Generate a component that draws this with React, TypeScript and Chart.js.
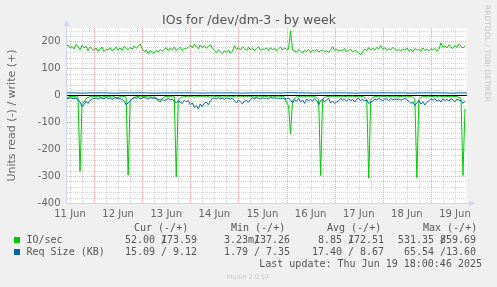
import React, { useEffect, useRef } from "react";
import { Chart, registerables } from "chart.js";

Chart.register(...registerables);

// ---------- text ----------
const TITLE = "IOs for /dev/dm-3 - by week";
const Y_TITLE = "Units read (-) / write (+)";
const WATERMARK = "RRDTOOL / TOBI OETIKER";
const FOOTER = "Munin 2.0.57";
const LAST_UPDATE = "Last update: Thu Jun 19 18:00:46 2025";

// ---------- axes (hours since 11 Jun 00:00) ----------
const X_MIN_HOUR = 10.5;
const X_MAX_HOUR = 210;
const X_TICK_HOURS = [12, 36, 60, 84, 108, 132, 156, 180, 204];
const X_TICK_LABELS = ["11 Jun", "12 Jun", "13 Jun", "14 Jun", "15 Jun", "16 Jun", "17 Jun", "18 Jun", "19 Jun"];
const Y_MIN = -400;
const Y_MAX = 250;
const Y_TICKS = [-400, -300, -200, -100, 0, 100, 200];

// ---------- series ----------
const SERIES_START_HOUR = 10;
const SERIES_STEP_HOURS = 1;

// IO/sec write (+)
const IOS_WRITE = [
  178, 187, 175, 182, 172, 190, 180, 169, 186, 176, 182, 166, 180, 173,
  167, 176, 164, 173, 179, 162, 171, 168, 177, 165,
  172, 179, 167, 176, 166, 182, 174, 169, 178, 171, 184, 175, 181, 191,
  173, 163, 168, 155, 166, 160, 157, 167, 161, 170, 164,
  170, 177, 166, 175, 169, 179, 167, 174, 178, 166, 175, 172,
  179, 186, 176, 190, 182, 173, 187, 178, 184, 175, 181, 188, 176,
  166, 158, 169, 162, 155, 165, 160, 168, 157, 163,
  184, 171, 177, 168, 180, 173, 166, 178, 169, 175, 165, 174, 180, 168, 172,
  171, 176, 166, 177, 169, 174, 165, 172, 179, 168, 176, 171,
  172, 240, 168,
  165, 160, 170, 164, 157, 168, 162, 171, 159, 166, 164, 170, 161, 165, 168, 162, 166, 159, 170,
  181,
  166, 172, 164, 169, 165, 174, 162, 168, 171, 161, 166, 164, 158, 152, 162,
  172, 166, 177, 169, 175, 168, 178, 173, 185, 170, 177, 166, 173, 169, 178, 172, 167,
  170, 164, 173, 167, 176, 165, 171, 162, 174, 168, 170, 164, 176, 167, 171, 165, 173, 168, 174, 164, 170,
  195, 178, 184, 176, 188, 180, 174, 186, 177, 190, 182, 176, 184,
];

// IO/sec read (-)
const IOS_READ = [
  -5, -8, -4, -6, -3, -7, -5,
  -283,
  -30, -25, -12, -8, -5, -6,
  -4, -6, -3, -5, -8, -4, -6, -3, -5, -7, -4, -10, -8, -5, -6, -4, -7,
  -296,
  -20, -12, -8, -5, -4, -6, -3, -5, -4, -7, -5, -8, -6, -10, -22, -25, -12, -6, -4, -5, -3, -6, -5,
  -302,
  -18, -10, -6, -5, -4, -6, -3, -5,
  -7, -4, -6, -5, -3, -4, -6, -5,
  -8, -4, -3, -5, -6, -4, -7, -5,
  -3, -4, -6, -5, -4, -3, -5, -6,
  -4, -5, -3, -6, -4, -5, -7, -4,
  -3, -5, -6, -4, -5, -3, -4, -6,
  -5, -4, -3, -5, -4, -6, -25, -40,
  -143,
  -20, -12, -6, -5, -4, -6, -5, -3, -4, -6, -5, -4, -8, -15,
  -298,
  -15, -8, -5, -4, -6, -3, -5, -4, -6, -5, -3, -4, -5, -6, -4, -3, -5, -4, -6, -5, -4, -8, -15,
  -307,
  -18, -8, -5, -4, -6, -5, -3, -4, -6, -5, -4, -3, -5, -6, -4, -5, -3, -4, -6, -5, -4, -8, -14,
  -306,
  -16, -8, -5, -4, -6, -3, -5, -4, -6, -5, -3, -4, -5, -6, -4, -5, -3, -6, -4, -5, -8, -12,
  -298,
  -50,
];

// Req Size (KB) read (-)
const SIZE_READ = [
  -10, -12, -9, -11, -13, -10, -15,
  -25, -42, -35, -22, -30, -18, -14,
  -12, -10, -14, -9, -11, -13, -8, -12, -10, -15, -11, -9, -13, -12, -16,
  -22, -35, -28, -20,
  -12, -9, -11, -8, -13, -10, -7, -12, -14, -9, -11, -10, -13,
  -15, -18, -13, -20, -16, -12, -17, -14,
  -22, -28, -20, -25, -30, -18, -24,
  -20, -35, -28, -45, -38, -50, -32, -42, -30, -25, -35, -22,
  -12, -10, -14, -9, -13, -11, -15, -10, -12, -14, -11,
  -20, -28, -17, -25, -32, -22, -18, -26, -15,
  -10, -12, -8, -11, -14, -9, -12, -10, -13, -8, -11, -9, -12, -10,
  -13, -11, -14, -12, -10,
  -18, -28, -15, -22, -12, -25, -17, -30, -14, -20,
  -15, -22, -12, -18, -35, -20, -14, -25, -16, -12, -28,
  -22, -30, -25, -20,
  -12, -18, -15, -22, -13, -20, -16, -25, -14, -12, -19, -15, -21, -17,
  -30, -26, -22,
  -14, -18, -12, -16, -20, -13, -15, -19, -12, -17, -14, -16, -13, -18, -15, -12, -16,
  -22, -30, -25, -38, -28, -20, -33, -24, -36, -26, -20,
  -14, -18, -12, -22, -16, -25, -13, -19, -15, -21, -12, -17, -24, -14, -18, -20,
  -30, -22,
];

// Req Size (KB) write (+), every 4 hours
const SIZE_WRITE_STEP_HOURS = 4;
const SIZE_WRITE = [
  9, 9, 8, 9, 9, 9, 8, 9, 9, 9,
  9, 8, 9, 9, 9, 9, 9, 8, 9, 9,
  9, 9, 8, 9, 9, 9, 9, 9, 10, 9,
  9, 8, 9, 9, 9, 9, 8, 9, 9, 9,
  9, 9, 9, 8, 9, 9, 9, 9, 8, 9,
  9,
];

// ---------- legend ----------
const LEGEND_HEADERS = ["Cur (-/+)", "Min (-/+)", "Avg (-/+)", "Max (-/+)"];
const LEGEND_NAMES = ["IO/sec", "Req Size (KB)"];
const LEGEND_COLORS = ["#00CC00", "#0066B3"];
const LEGEND_READ = [
  ["52.00 ", "3.23m", "8.85 ", "531.35 "],
  ["15.09 ", "1.79 ", "17.40 ", "65.54 "],
];
const LEGEND_WRITE = [
  ["173.59", "137.26", "172.51", "859.69"],
  ["9.12", "7.35", "8.67", "13.60"],
];

// ---------- style ----------
const SANS = '"DejaVu Sans", sans-serif';
const MONO = '"DejaVu Sans Mono", monospace';
const FONT_COLOR = "#666666";
const TEXT_DARK = "#555555";
const BACK = "#F0F0F0";
const CANVAS_BG = "#FFFFFF";
const GRID = "#D6D6D6";
const MGRID = "#EBA8A8";
const AXIS = "#CFD6F8";
const GREEN = "#00CC00";
const BLUE = "#0066B3";

const toPoints = (arr: number[], start: number, step: number) =>
  arr.map((v, i) => ({ x: start + i * step, y: v }));

function txt(
  ctx: CanvasRenderingContext2D,
  s: string,
  x: number,
  y: number,
  font: string,
  color: string,
  align: CanvasTextAlign = "left"
) {
  ctx.font = font;
  ctx.fillStyle = color;
  ctx.textAlign = align;
  ctx.textBaseline = "alphabetic";
  ctx.fillText(s, x, y);
}

const muninPlugin = {
  id: "muninDecor",
  beforeDraw(chart: any) {
    const { ctx, chartArea: a, width, height } = chart;
    ctx.save();
    ctx.fillStyle = BACK;
    ctx.fillRect(0, 0, width, height);
    ctx.fillStyle = CANVAS_BG;
    ctx.fillRect(a.left, a.top, a.right - a.left, a.bottom - a.top);
    ctx.restore();
  },
  beforeDatasetsDraw(chart: any) {
    const { ctx, chartArea: a, scales } = chart;
    const xs = scales.x;
    const ys = scales.y;
    ctx.save();
    ctx.lineWidth = 1;
    ctx.setLineDash([1, 1]);
    const vline = (h: number, color: string) => {
      const px = Math.round(xs.getPixelForValue(h)) + 0.5;
      if (px < a.left || px > a.right) return;
      ctx.strokeStyle = color;
      ctx.beginPath();
      ctx.moveTo(px, a.top);
      ctx.lineTo(px, a.bottom);
      ctx.stroke();
    };
    const hline = (v: number, color: string) => {
      const py = Math.round(ys.getPixelForValue(v)) + 0.5;
      ctx.strokeStyle = color;
      ctx.beginPath();
      ctx.moveTo(a.left, py);
      ctx.lineTo(a.right, py);
      ctx.stroke();
    };
    for (let h = Math.ceil(xs.min / 6) * 6; h <= xs.max; h += 6) if (h % 24 !== 0) vline(h, GRID);
    for (let v = Y_MIN; v <= Y_MAX; v += 20) if (v % 100 !== 0) hline(v, GRID);
    for (let h = Math.ceil(xs.min / 24) * 24; h <= xs.max; h += 24) vline(h, MGRID);
    for (let v = Y_MIN; v <= Y_MAX; v += 100) hline(v, MGRID);
    ctx.setLineDash([]);

    // axes + arrows
    ctx.strokeStyle = AXIS;
    ctx.fillStyle = AXIS;
    const ax = Math.round(a.left) - 0.5;
    const ay = Math.round(a.bottom) + 0.5;
    ctx.beginPath();
    ctx.moveTo(ax, ay);
    ctx.lineTo(ax, a.top - 3);
    ctx.moveTo(ax, ay);
    ctx.lineTo(a.right + 3, ay);
    ctx.stroke();
    ctx.beginPath();
    ctx.moveTo(ax - 3, a.top - 2);
    ctx.lineTo(ax + 3, a.top - 2);
    ctx.lineTo(ax, a.top - 8);
    ctx.closePath();
    ctx.fill();
    ctx.beginPath();
    ctx.moveTo(a.right + 2, ay - 3);
    ctx.lineTo(a.right + 2, ay + 3);
    ctx.lineTo(a.right + 8, ay);
    ctx.closePath();
    ctx.fill();

    // zero line
    const zy = Math.round(ys.getPixelForValue(0)) + 0.5;
    ctx.strokeStyle = "#000000";
    ctx.beginPath();
    ctx.moveTo(a.left, zy);
    ctx.lineTo(a.right, zy);
    ctx.stroke();
    ctx.restore();
  },
  afterDraw(chart: any) {
    const { ctx, chartArea: a } = chart;
    ctx.save();
    // title
    txt(ctx, TITLE, 249, 24, `12.5px ${SANS}`, TEXT_DARK, "center");
    // y title
    ctx.save();
    ctx.translate(15, (a.top + a.bottom) / 2);
    ctx.rotate(-Math.PI / 2);
    txt(ctx, Y_TITLE, 0, 0, `11px ${SANS}`, FONT_COLOR, "center");
    ctx.restore();
    // watermark
    ctx.save();
    ctx.translate(485, 5);
    ctx.rotate(Math.PI / 2);
    txt(ctx, WATERMARK, 0, 0, `7.5px ${SANS}`, "#C4C4C4", "left");
    ctx.restore();

    // legend
    const mono = `10px ${MONO}`;
    const headerX = [134, 231, 327, 423];
    const slashX = [161, 254, 348, 440];
    LEGEND_HEADERS.forEach((h, i) => txt(ctx, h, headerX[i], 230.5, mono, TEXT_DARK));
    const rowY = [243, 255];
    LEGEND_NAMES.forEach((name, r) => {
      const y = rowY[r];
      ctx.fillStyle = LEGEND_COLORS[r];
      ctx.fillRect(14, y - 6, 6, 6);
      txt(ctx, name, 26.5, y, mono, TEXT_DARK);
      for (let c = 0; c < 4; c++) {
        txt(ctx, LEGEND_READ[r][c], slashX[c], y, mono, TEXT_DARK, "right");
        txt(ctx, "/", slashX[c], y, mono, TEXT_DARK, "left");
        txt(ctx, LEGEND_WRITE[r][c], slashX[c] + 36, y, mono, TEXT_DARK, "right");
      }
    });
    txt(ctx, LAST_UPDATE, 482, 266.5, mono, TEXT_DARK, "right");
    txt(ctx, FOOTER, 248, 278.5, `6.5px ${SANS}`, "#C8C8C8", "center");
    ctx.restore();
  },
};

export default function App() {
  const ref = useRef<HTMLCanvasElement>(null);
  useEffect(() => {
    document.body.style.margin = "0";
    const canvas = ref.current!;
    const tickFont = { family: SANS, size: 10 };
    const chart = new Chart(canvas, {
      type: "line",
      data: {
        datasets: [
          { label: "Req Size write", data: toPoints(SIZE_WRITE, SERIES_START_HOUR, SIZE_WRITE_STEP_HOURS), borderColor: BLUE },
          { label: "Req Size read", data: toPoints(SIZE_READ, SERIES_START_HOUR, SERIES_STEP_HOURS), borderColor: BLUE },
          { label: "IO/sec write", data: toPoints(IOS_WRITE, SERIES_START_HOUR, SERIES_STEP_HOURS), borderColor: GREEN },
          { label: "IO/sec read", data: toPoints(IOS_READ, SERIES_START_HOUR, SERIES_STEP_HOURS), borderColor: GREEN },
        ],
      },
      options: {
        responsive: false,
        animation: false,
        devicePixelRatio: 1,
        events: [],
        layout: { padding: { left: 0, right: 30, top: 28, bottom: 0 } },
        plugins: { legend: { display: false }, tooltip: { enabled: false }, title: { display: false } },
        elements: { point: { radius: 0 }, line: { borderWidth: 1, tension: 0 } },
        scales: {
          x: {
            type: "linear",
            min: X_MIN_HOUR,
            max: X_MAX_HOUR,
            afterBuildTicks: (s: any) => {
              s.ticks = X_TICK_HOURS.map((v) => ({ value: v }));
            },
            afterFit: (s: any) => {
              s.height = 84;
            },
            grid: { display: false, drawTicks: false },
            border: { display: false },
            ticks: {
              autoSkip: false,
              maxRotation: 0,
              font: tickFont,
              color: FONT_COLOR,
              padding: 5,
              callback: (v: any) => {
                const i = X_TICK_HOURS.indexOf(Number(v));
                return i >= 0 ? X_TICK_LABELS[i] : "";
              },
            },
          },
          y: {
            type: "linear",
            min: Y_MIN,
            max: Y_MAX,
            afterBuildTicks: (s: any) => {
              s.ticks = Y_TICKS.map((v) => ({ value: v }));
            },
            afterFit: (s: any) => {
              s.width = 67;
            },
            grid: { display: false, drawTicks: false },
            border: { display: false },
            ticks: { font: tickFont, color: FONT_COLOR, padding: 6.5, callback: (v: any) => String(v) },
          },
        },
      },
      plugins: [muninPlugin],
    } as any);
    return () => chart.destroy();
  }, []);
  return (
    <div style={{ width: 497, height: 287 }}>
      <canvas ref={ref} width={497} height={287} style={{ display: "block", width: 497, height: 287 }} />
    </div>
  );
}
